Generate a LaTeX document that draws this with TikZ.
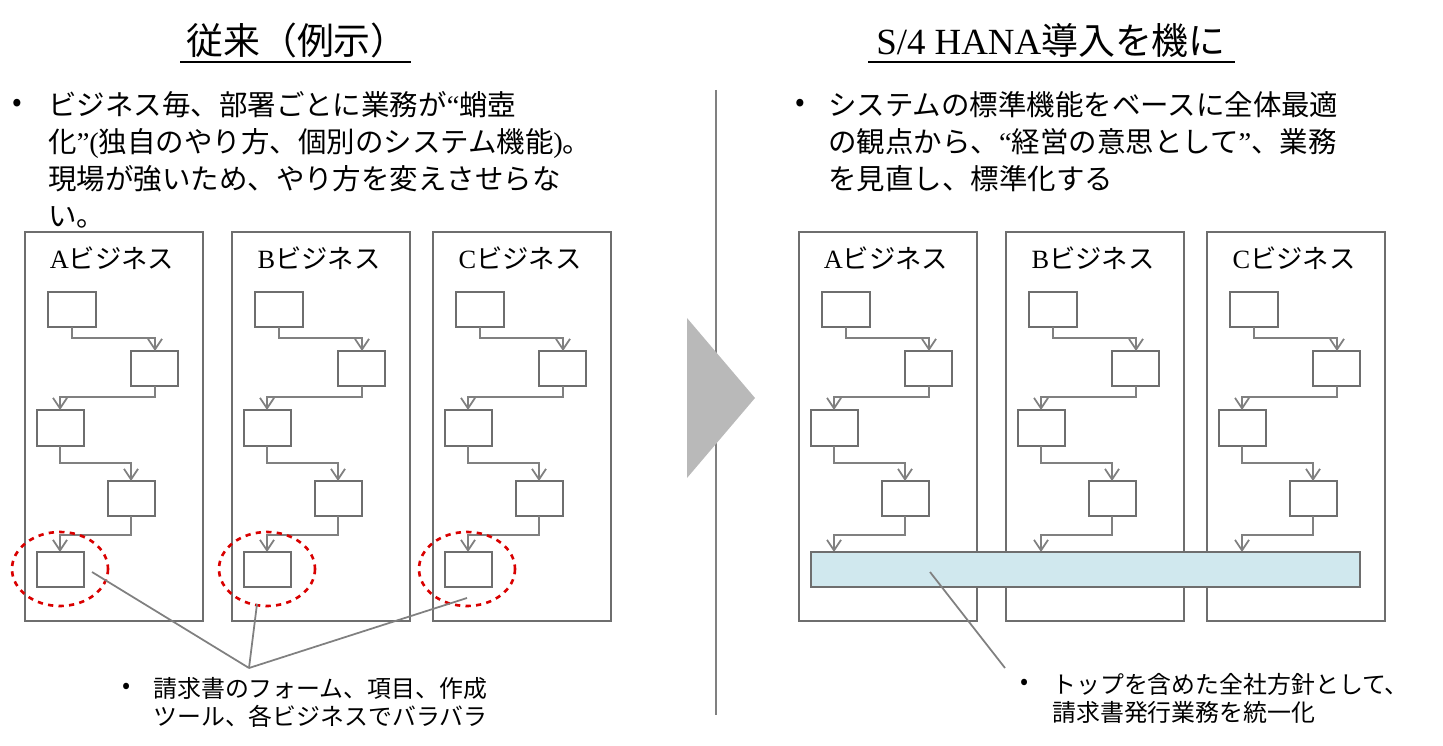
\documentclass[tikz,border=0pt]{standalone}
\usepackage{fontspec}
\setmainfont{Noto Sans CJK JP}
\newfontfamily\lt{Liberation Serif}
\usetikzlibrary{arrows.meta}
\definecolor{ln}{HTML}{808080}
\definecolor{bx}{HTML}{6E6E6E}
\tikzset{
 panel/.style={draw=bx,line width=1.2pt},
 sbox/.style={draw=bx,line width=1pt},
 flow/.style={draw=ln,line width=1pt,-{Straight Barb[length=6pt,width=8pt]}},
 lbl/.style={font=\fontsize{15}{17}\selectfont},
 txt/.style={font=\fontsize{16.2}{21}\selectfont,align=left,inner sep=0pt,anchor=north west},
 small/.style={font=\fontsize{13.6}{16}\selectfont,align=left,inner sep=0pt,anchor=north west},
 ell/.style={draw=red!85!black,dashed,line width=1.5pt},
 call/.style={draw=ln,line width=1pt}
}
\newcommand{\mypanel}[3]{% x offset, letter, last box?
 \begin{scope}[shift={(#1,0)}]
 \draw[panel] (25,232) rectangle (203,621);
 \node[lbl] at (112,258) {{\lt #2}ビジネス};
 \draw[sbox] (48,292) rectangle (96,327);
 \draw[sbox] (131,351) rectangle (178,386);
 \draw[sbox] (37,410) rectangle (84,446);
 \draw[sbox] (108,481) rectangle (155,516);
 \draw[flow] (72,327) |- (155,338) -- (155,351);
 \draw[flow] (155,386) |- (60,397) -- (60,410);
 \draw[flow] (60,446) |- (131,463) -- (131,481);
 \draw[flow] (131,516) |- (60,535) -- (60,552);
 #3
 \end{scope}}
\begin{document}
\begin{tikzpicture}[x=0.02cm,y=-0.02cm]
\useasboundingbox (0,0) rectangle (1443,746);
% titles
\node[font=\fontsize{21}{24}\selectfont] (t1) at (297,40) {従来（例示）};
\draw[line width=1pt] (180,62) -- (411,62);
\node[font=\fontsize{21}{24}\selectfont] (t2) at (1051,40) {{\lt S/4 HANA}導入を機に};
\draw[line width=1pt] (868,62) -- (1235,62);
\draw[ln,line width=1pt] (716,90) -- (716,715);
\fill[gray!55] (687,318) -- (755,398) -- (687,478) -- cycle;
% left bullets
\node[txt] at (12,99) {•};
\node[txt] (lb) at (48,91) {ビジネス毎、部署ごとに業務が{\lt “}蛸壺\\化{\lt ”(}独自のやり方、個別のシステム機能{\lt )}。\\現場が強いため、やり方を変えさせらな\\い。};
\node[txt] at (795,99) {•};
\node[txt] (rb) at (828,91) {システムの標準機能をベースに全体最適\\の観点から、{\lt “}経営の意思として{\lt ”}、業務\\を見直し、標準化する};
% left panels
\mypanel{0}{A}{\draw[sbox] (37,552) rectangle (84,587);}
\mypanel{207}{B}{\draw[sbox] (37,552) rectangle (84,587);}
\mypanel{408}{C}{\draw[sbox] (37,552) rectangle (84,587);}
\draw[ell] (60,569) ellipse (48 and 37);
\draw[ell] (267,569) ellipse (48 and 37);
\draw[ell] (467,569) ellipse (48 and 37);
\coordinate (m) at (249,668);
\draw[call] (92,572) -- (m);
\draw[call] (257,604) -- (m);
\draw[call] (467,598) -- (m);
\node[small] at (122,683) {•};
\node[small] (lt) at (153,677) {請求書のフォーム、項目、作成\\ツール、各ビジネスでバラバラ};
% right panels
\mypanel{774}{A}{}
\mypanel{981}{B}{}
\mypanel{1182}{C}{}
\draw[draw=bx,line width=1pt,fill={rgb,255:red,208;green,232;blue,238}] (811,552) rectangle (1360,587);
\coordinate (bar) at (930,572);
\draw[call] (bar) -- (1005,668);
\node[small] at (1020,679) {•};
\node[small] (rt) at (1052,673) {トップを含めた全社方針として、\\請求書発行業務を統一化};
\end{tikzpicture}
\end{document}
